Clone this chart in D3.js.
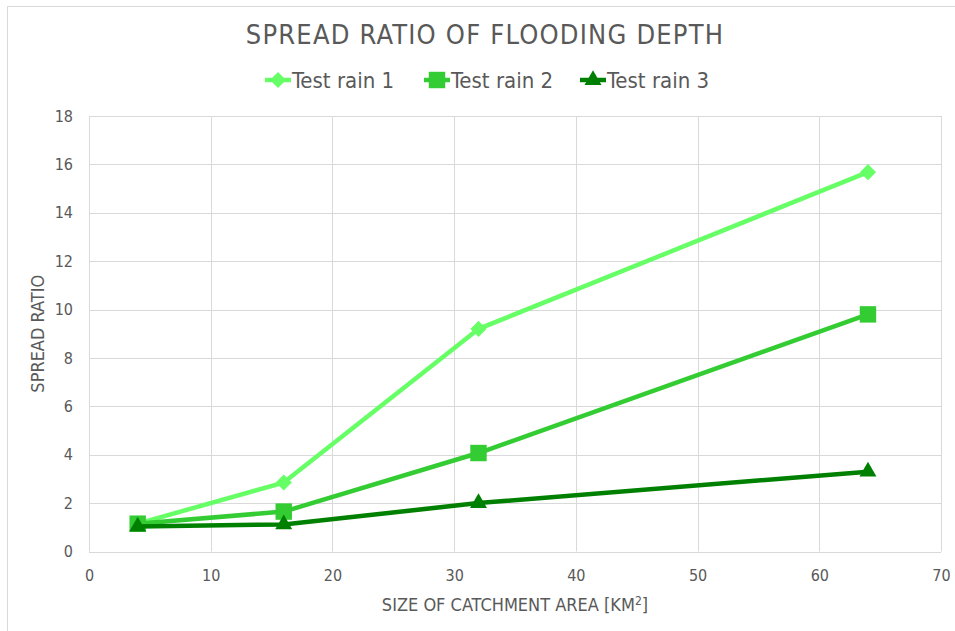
<!DOCTYPE html>
<html>
<head>
<meta charset="utf-8">
<script src="https://cdn.jsdelivr.net/npm/d3@7"></script>
<style>
  body { margin: 0; background: #fff; }
  text { font-family: "Liberation Sans Narrow", "DejaVu Sans Condensed", "Roboto", sans-serif; fill: #595959; }
</style>
</head>
<body>
<div class="canvas"></div>
<script>
// data
var areas = [4, 16, 32, 64];
var rain1 = [1.15, 2.85, 9.2, 15.68];
var rain2 = [1.15, 1.65, 4.07, 9.8];
var rain3 = [1.03, 1.12, 2.0, 3.3];
var seriesNames = ['Test rain 1', 'Test rain 2', 'Test rain 3'];
var xTicks = [0, 10, 20, 30, 40, 50, 60, 70];
var yTicks = [0, 2, 4, 6, 8, 10, 12, 14, 16, 18];

var colors = ['#66ff66', '#33cc33', '#008000'],
    shapes = [d3.symbolSquare, d3.symbolSquare, d3.symbolTriangle],
    sizes = [130, 270, 125],
    turns = [45, 0, 0];

var W = 955, H = 631,
    margin = {top: 116, right: 14, bottom: 79.5, left: 89};

var svg = d3.select('.canvas').append('svg')
    .attr('width', W)
    .attr('height', H);

// chart border
svg.append('rect')
    .attr('x', 7.5).attr('y', 6.5)
    .attr('width', W).attr('height', H)
    .attr('fill', 'none')
    .attr('stroke', '#d9d9d9');

var x = d3.scaleLinear().domain([0, 70]).range([margin.left, W - margin.right]),
    y = d3.scaleLinear().domain([0, 18]).range([H - margin.bottom, margin.top]);

// gridlines
svg.append('g').selectAll('line')
    .data(xTicks)
    .enter().append('line')
    .attr('x1', function (d) { return Math.round(x(d)) + 0.5; })
    .attr('x2', function (d) { return Math.round(x(d)) + 0.5; })
    .attr('y1', y(0)).attr('y2', y(18))
    .attr('stroke', '#d9d9d9');

svg.append('g').selectAll('line')
    .data(yTicks)
    .enter().append('line')
    .attr('y1', function (d) { return Math.round(y(d)) + 0.5; })
    .attr('y2', function (d) { return Math.round(y(d)) + 0.5; })
    .attr('x1', x(0)).attr('x2', x(70))
    .attr('stroke', '#d9d9d9');

// axes, tick text only
var xAxis = svg.append('g')
    .attr('transform', 'translate(0,' + y(0) + ')')
    .call(d3.axisBottom(x).tickValues(xTicks).tickSize(0).tickPadding(18));
var yAxis = svg.append('g')
    .attr('transform', 'translate(' + x(0) + ',0)')
    .call(d3.axisLeft(y).tickValues(yTicks).tickSize(0).tickPadding(16));
[xAxis, yAxis].forEach(function (a) {
    a.select('.domain').remove();
    a.selectAll('text').style('font-size', '16px').attr('fill', '#595959')
        .style('font-family', null);
});

// lines and markers
var allSeries = [rain1, rain2, rain3];
var line = d3.line()
    .x(function (d, i) { return x(areas[i]); })
    .y(function (d) { return y(d); });

allSeries.forEach(function (vals, s) {
    svg.append('path')
        .datum(vals)
        .attr('d', line)
        .attr('fill', 'none')
        .attr('stroke', colors[s])
        .attr('stroke-width', 4.5)
        .attr('stroke-linejoin', 'round');
    svg.append('g').selectAll('path')
        .data(vals)
        .enter().append('path')
        .attr('d', d3.symbol().type(shapes[s]).size(sizes[s]))
        .attr('transform', function (d, i) {
            return 'translate(' + x(areas[i]) + ',' + y(d) + ') rotate(' + turns[s] + ')';
        })
        .attr('fill', colors[s]);
});

// title
svg.append('text')
    .attr('x', 485).attr('y', 44)
    .attr('text-anchor', 'middle')
    .style('font-size', '27px')
    .style('letter-spacing', '1.2px')
    .text('SPREAD RATIO OF FLOODING DEPTH');

// legend
var legendX = [265, 424, 580];
var legend = svg.append('g').selectAll('g')
    .data(seriesNames)
    .enter().append('g')
    .attr('transform', function (d, i) { return 'translate(' + legendX[i] + ',80)'; });
legend.append('line')
    .attr('x1', 0).attr('x2', 26)
    .attr('stroke', function (d, i) { return colors[i]; })
    .attr('stroke-width', 4.5);
legend.append('path')
    .attr('d', function (d, i) { return d3.symbol().type(shapes[i]).size(sizes[i])(); })
    .attr('transform', function (d, i) { return 'translate(13,0) rotate(' + turns[i] + ')'; })
    .attr('fill', function (d, i) { return colors[i]; });
legend.append('text')
    .attr('x', 27).attr('y', 7.5)
    .style('font-size', '22px')
    .text(function (d) { return d; });

// axis titles
svg.append('text')
    .attr('transform', 'translate(44,' + ((y(0) + y(18)) / 2) + ') rotate(-90)')
    .attr('text-anchor', 'middle')
    .style('font-size', '18px')
    .text('SPREAD RATIO');

var xt = svg.append('text')
    .attr('x', (x(0) + x(70)) / 2).attr('y', 611)
    .attr('text-anchor', 'middle')
    .style('font-size', '18px');
xt.append('tspan').text('SIZE OF CATCHMENT AREA [KM');
xt.append('tspan').attr('dy', -6).style('font-size', '12px').text('2');
xt.append('tspan').attr('dy', 6).text(']');
</script>
</body>
</html>
